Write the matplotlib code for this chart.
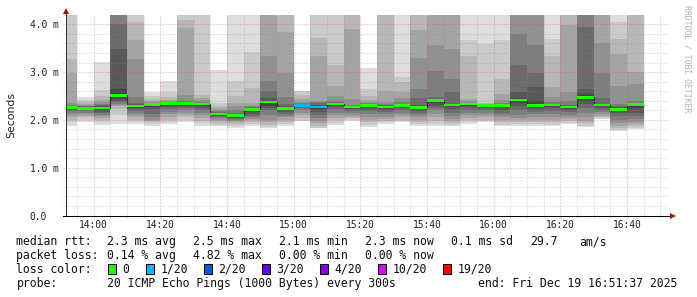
import numpy as np
import matplotlib
matplotlib.use("Agg")
import matplotlib.pyplot as plt
from matplotlib.patches import Rectangle

plt.rcParams['lines.scale_dashes'] = False

# ---------------- data ----------------
bin_start = ["13:50", "13:55", "14:00", "14:05", "14:10", "14:15", "14:20", "14:25",
             "14:30", "14:35", "14:40", "14:45", "14:50", "14:55", "15:00", "15:05",
             "15:10", "15:15", "15:20", "15:25", "15:30", "15:35", "15:40", "15:45",
             "15:50", "15:55", "16:00", "16:05", "16:10", "16:15", "16:20", "16:25",
             "16:30", "16:35", "16:40"]

nan = float("nan")
# 20 sorted ping RTTs (ms) per 5-minute bin; nan = lost ping
pings_ms = [
    [1.87, 1.95, 2.0, 2.05, 2.1, 2.15, 2.18, 2.2, 2.22, 2.25, 2.27, 2.28, 2.29, 2.3, 2.32, 2.35, 2.99, 3.27, 4.5, 5.0],
    [1.95, 2.0, 2.05, 2.08, 2.12, 2.15, 2.18, 2.2, 2.22, 2.24, 2.25, 2.26, 2.27, 2.28, 2.29, 2.31, 2.33, 2.37, 2.42, 2.47],
    [1.9, 1.95, 2.0, 2.04, 2.08, 2.11, 2.14, 2.17, 2.2, 2.23, 2.25, 2.27, 2.29, 2.31, 2.34, 2.37, 2.42, 2.5, 2.62, 3.22],
    [1.92, 2.1, 2.23, 2.28, 2.31, 2.34, 2.37, 2.4, 2.44, 2.48, 2.55, 2.65, 3.49, 4.0, 4.3, 4.4, 4.5, 4.6, 4.7, 4.8],
    [1.92, 1.96, 2.0, 2.05, 2.1, 2.14, 2.18, 2.22, 2.25, 2.28, 2.30, 2.31, 2.33, 2.36, 2.48, 3.27, 3.67, 4.04, 4.3, 4.5],
    [1.88, 1.92, 1.95, 1.97, 2.0, 2.05, 2.12, 2.22, 2.27, 2.31, 2.32, 2.33, 2.34, 2.35, 2.36, 2.38, 2.4, 2.43, 2.5, 2.59],
    [1.92, 1.96, 2.0, 2.06, 2.12, 2.17, 2.22, 2.27, 2.3, 2.33, 2.34, 2.345, 2.35, 2.36, 2.37, 2.39, 2.42, 2.47, 2.58, 2.82],
    [1.96, 2.0, 2.05, 2.1, 2.15, 2.2, 2.24, 2.27, 2.3, 2.33, 2.35, 2.36, 2.37, 2.38, 2.42, 2.52, 3.92, 4.09, 4.5, 4.6],
    [1.88, 1.93, 1.98, 2.03, 2.1, 2.15, 2.2, 2.24, 2.28, 2.31, 2.33, 2.34, 2.35, 2.36, 2.38, 2.41, 2.45, 2.51, 4.4, 4.6],
    [1.87, 1.9, 1.94, 1.97, 2.0, 2.03, 2.06, 2.08, 2.1, 2.12, 2.13, 2.14, 2.15, 2.16, 2.18, 2.2, 2.24, 2.28, 2.35, 3.04],
    [1.83, 1.87, 1.91, 1.95, 1.98, 2.0, 2.02, 2.04, 2.06, 2.08, 2.1, 2.11, 2.12, 2.15, 2.2, 2.28, 2.35, 2.49, 2.82, 4.5],
    [1.87, 1.91, 1.95, 1.99, 2.02, 2.05, 2.09, 2.13, 2.17, 2.21, 2.23, 2.24, 2.25, 2.26, 2.28, 2.3, 2.35, 2.67, 3.41, 4.5],
    [1.83, 1.86, 1.9, 1.95, 2.0, 2.1, 2.2, 2.25, 2.3, 2.36, 2.38, 2.40, 2.46, 2.6, 2.82, 3.34, 4.3, 4.4, 4.5, 4.6],
    [1.88, 1.92, 1.96, 2.0, 2.05, 2.09, 2.13, 2.17, 2.2, 2.23, 2.25, 2.26, 2.28, 2.33, 2.47, 2.99, 3.84, 4.3, 4.4, 4.5],
    [1.95, 1.98, 2.04, 2.1, 2.15, 2.2, 2.24, 2.27, 2.29, 2.295, 2.30, 2.31, 2.32, 2.33, 2.35, 2.38, 2.44, 2.52, 2.60, nan],
    [1.80, 1.83, 1.88, 1.93, 1.98, 2.04, 2.1, 2.16, 2.22, 2.26, 2.28, 2.3, 2.32, 2.35, 2.38, 2.40, 3.33, 3.72, 4.5, nan],
    [1.90, 1.94, 1.99, 2.04, 2.1, 2.15, 2.22, 2.27, 2.3, 2.325, 2.335, 2.34, 2.35, 2.37, 2.4, 2.49, 2.71, 3.15, 4.3, 4.5],
    [1.98, 2.0, 2.03, 2.06, 2.1, 2.15, 2.19, 2.22, 2.25, 2.265, 2.275, 2.28, 2.29, 2.3, 2.32, 2.44, 3.90, 4.3, 4.4, 4.5],
    [1.86, 1.9, 1.95, 2.0, 2.06, 2.12, 2.18, 2.23, 2.27, 2.295, 2.305, 2.31, 2.32, 2.33, 2.35, 2.38, 2.42, 2.5, 2.65, 3.08],
    [1.92, 1.95, 1.98, 2.02, 2.07, 2.12, 2.17, 2.21, 2.24, 2.265, 2.275, 2.28, 2.29, 2.31, 2.33, 2.38, 2.61, 4.3, 4.4, 4.5],
    [1.95, 1.97, 2.0, 2.05, 2.1, 2.15, 2.2, 2.24, 2.27, 2.295, 2.305, 2.31, 2.32, 2.34, 2.38, 2.45, 2.58, 2.79, 2.89, 4.5],
    [1.88, 1.91, 1.95, 2.0, 2.05, 2.1, 2.14, 2.18, 2.22, 2.25, 2.27, 2.29, 2.31, 2.45, 2.65, 3.30, 3.88, 4.3, 4.4, 4.5],
    [1.87, 1.92, 1.98, 2.05, 2.12, 2.2, 2.25, 2.3, 2.35, 2.40, 2.42, 2.43, 2.44, 2.47, 3.03, 3.57, 4.3, 4.4, 4.5, 4.6],
    [1.87, 1.9, 1.93, 1.97, 2.02, 2.08, 2.15, 2.22, 2.28, 2.305, 2.315, 2.32, 2.34, 2.58, 2.85, 3.49, 4.3, 4.4, 4.5, 4.6],
    [1.92, 1.95, 1.99, 2.04, 2.1, 2.15, 2.21, 2.26, 2.3, 2.32, 2.33, 2.335, 2.34, 2.35, 2.36, 2.39, 2.44, 3.34, 3.67, 4.5],
    [1.95, 1.97, 2.0, 2.05, 2.1, 2.15, 2.2, 2.25, 2.28, 2.295, 2.30, 2.305, 2.31, 2.315, 2.32, 2.33, 2.34, 2.36, 3.58, 4.5],
    [1.87, 1.9, 1.95, 2.0, 2.05, 2.1, 2.15, 2.2, 2.26, 2.295, 2.305, 2.31, 2.32, 2.33, 2.36, 2.42, 2.55, 2.85, 3.67, 4.5],
    [1.88, 1.91, 1.95, 1.99, 2.04, 2.1, 2.2, 2.3, 2.36, 2.41, 2.43, 2.46, 2.58, 3.14, 3.79, 4.3, 4.4, 4.5, 4.6, 4.7],
    [1.88, 1.91, 1.95, 2.0, 2.06, 2.12, 2.17, 2.22, 2.26, 2.29, 2.31, 2.4, 2.68, 2.98, 3.56, 4.3, 4.4, 4.5, 4.6, 4.7],
    [1.87, 1.9, 1.95, 2.0, 2.06, 2.12, 2.18, 2.24, 2.28, 2.305, 2.315, 2.32, 2.325, 2.34, 2.38, 2.48, 2.68, 3.34, 3.69, 4.5],
    [1.92, 1.94, 1.97, 2.01, 2.06, 2.11, 2.16, 2.2, 2.24, 2.265, 2.275, 2.28, 2.29, 2.32, 2.4, 2.58, 3.98, 4.3, 4.4, 4.5],
    [1.85, 1.88, 1.93, 1.98, 2.05, 2.15, 2.25, 2.33, 2.4, 2.46, 2.48, 2.55, 2.65, 3.95, 4.25, 4.3, 4.35, 4.4, 4.45, 4.5],
    [2.02, 2.03, 2.05, 2.08, 2.12, 2.16, 2.2, 2.24, 2.28, 2.305, 2.315, 2.32, 2.325, 2.45, 2.99, 3.6, 4.3, 4.4, 4.5, 4.6],
    [1.76, 1.78, 1.82, 1.87, 1.93, 2.0, 2.08, 2.14, 2.19, 2.215, 2.23, 2.24, 2.26, 2.3, 2.33, 2.71, 3.37, 3.69, 4.05, 4.5],
    [1.81, 1.84, 1.87, 1.91, 1.96, 2.02, 2.08, 2.15, 2.25, 2.315, 2.325, 2.33, 2.335, 2.34, 2.4, 2.75, 3.0, 4.3, 4.4, 4.5],
]

median_ms = [2.26, 2.24, 2.25, 2.51, 2.29, 2.32, 2.34, 2.34, 2.33, 2.125, 2.09, 2.22,
             2.37, 2.24, 2.30, 2.27, 2.33, 2.27, 2.30, 2.27, 2.30, 2.26, 2.41, 2.31,
             2.33, 2.30, 2.30, 2.42, 2.30, 2.31, 2.27, 2.47, 2.31, 2.22, 2.32]

loss_count = [0] * 14 + [1, 1] + [0] * 19

loss_levels = [0, 1, 2, 3, 4, 10, 19]
loss_labels = ["0", "1/20", "2/20", "3/20", "4/20", "10/20", "19/20"]
loss_colors = ["#26ff00", "#00b8ff", "#0059ff", "#5e00ff", "#7e00ff", "#dd00ff", "#ff0000"]

ytick_values = [0.0, 1.0, 2.0, 3.0, 4.0]
ytick_labels = ["0.0", "1.0 m", "2.0 m", "3.0 m", "4.0 m"]
xtick_labels = ["14:00", "14:20", "14:40", "15:00", "15:20", "15:40", "16:00", "16:20", "16:40"]

rtt_items = ["2.3 ms avg", "2.5 ms max", "2.1 ms min", "2.3 ms now", "0.1 ms sd", "29.7", "am/s"]
loss_items = ["0.14 % avg", "4.82 % max", "0.00 % min", "0.00 % now"]
probe_text = "20 ICMP Echo Pings (1000 Bytes) every 300s"
end_text = "end: Fri Dec 19 16:51:37 2025"

# ---------------- helpers ----------------
def to_min(s):
    h, m = s.split(":")
    return int(h) * 60 + int(m) - 14 * 60

starts = np.array([to_min(s) for s in bin_start], dtype=float)
BIN = 5.0

W, H = 697, 297
fig = plt.figure(figsize=(W / 100, H / 100), dpi=100, facecolor="white")
L, R, T, B = 66, 669, 14.7, 215.5
ax = fig.add_axes([L / W, 1 - B / H, (R - L) / W, (B - T) / H])
ax.set_facecolor("white")
ax.set_xlim(-8.3, 172.6)
ax.set_ylim(0, 4.2)

# ---------------- smoke ----------------
half = 10
for x0, p in zip(starts, pings_ms):
    p = list(p)
    for ibot in range(1, half + 1):
        itop = 21 - ibot
        lo, hi = p[ibot - 1], p[itop - 1]
        if np.isnan(lo) or np.isnan(hi):
            continue
        g = int(190 / half * (half - ibot)) + 50
        col = "#%02x%02x%02x" % (g, g, g)
        ax.bar(x0, hi - lo, bottom=lo, width=BIN, align="edge", color=col,
               linewidth=0, zorder=2)

# ---------------- median ----------------
edges = np.append(starts, starts[-1] + BIN)
ax.stairs(median_ms, edges, baseline=None, color="#202020", lw=0.8, zorder=3)

def loss_col(n):
    for lvl, c in zip(loss_levels, loss_colors):
        if n <= lvl:
            return c
    return loss_colors[-1]

sw = 1.3 * 4.2 / (B - T)
med = np.array(median_ms)
ax.bar(starts, 2 * sw, bottom=med - sw, width=BIN, align="edge",
       color=[loss_col(n) for n in loss_count], linewidth=0, zorder=4)

# ---------------- grid ----------------
xt = ax.get_xaxis_transform()
yt = ax.get_yaxis_transform()
ext_y = 2.5 / (B - T)
ext_x = 3.0 / (R - L)
minor_col = (0.55, 0.55, 0.55, 0.45)
major_col = (0.80, 0.30, 0.30, 0.50)
dot = (0, (0.72, 1.44))
minor_v = [m for m in np.arange(-5, 171, 5) if m % 20 != 0]
major_v = list(np.arange(0, 161, 20))
ax.vlines(minor_v, -ext_y, 1, transform=xt, colors=[minor_col], linestyles=[dot],
          lw=0.72, zorder=5, clip_on=False)
ax.vlines(major_v, -ext_y, 1, transform=xt, colors=[major_col], linestyles=[dot],
          lw=0.72, zorder=5, clip_on=False)
minor_h = [v for v in np.round(np.arange(0.2, 4.11, 0.2), 2) if abs(v - round(v)) > 1e-6]
major_h = [1.0, 2.0, 3.0, 4.0]
ax.hlines(minor_h, -ext_x, 1, transform=yt, colors=[minor_col], linestyles=[dot],
          lw=0.72, zorder=5, clip_on=False)
ax.hlines(major_h, -ext_x, 1, transform=yt, colors=[major_col], linestyles=[dot],
          lw=0.72, zorder=5, clip_on=False)

# ---------------- axes lines & arrows ----------------
for s in ["top", "right"]:
    ax.spines[s].set_visible(False)
ax.spines["left"].set_color("#333333")
ax.spines["bottom"].set_color("#000000")
ax.spines["left"].set_linewidth(0.75)
ax.spines["bottom"].set_linewidth(0.75)
ax.spines["left"].set_zorder(6)
ax.spines["bottom"].set_zorder(6)
ax.plot([0, 0], [1, 1 + 4 / (B - T)], transform=ax.transAxes, color="#333333",
        lw=0.75, clip_on=False, zorder=6)
ax.plot([-ext_x, 0], [0, 0], transform=ax.transAxes, color="#000000",
        lw=0.75, clip_on=False, zorder=6)
ax.plot([1, 1 + 2 / (R - L)], [0, 0], transform=ax.transAxes, color="#000000",
        lw=0.75, clip_on=False, zorder=6)
ax.plot([0], [1 + 3.5 / (B - T)], marker="^", markersize=4, color="#a01010",
        transform=ax.transAxes, clip_on=False, zorder=7, markeredgewidth=0)
ax.plot([1 + 4 / (R - L)], [0], marker=">", markersize=4, color="#a01010",
        transform=ax.transAxes, clip_on=False, zorder=7, markeredgewidth=0)

# ---------------- ticks ----------------
mono = "DejaVu Sans Mono"
ax.set_yticks(ytick_values)
ax.set_yticklabels(ytick_labels, family=mono, fontsize=6.9, color="#222222")
for lab in ax.get_yticklabels():
    lab.set_horizontalalignment("left")
ax.tick_params(axis="y", length=0, pad=(L - 29.5) * 0.72)
ax.set_xticks([to_min(s) for s in xtick_labels])
ax.set_xticklabels(xtick_labels, family=mono, fontsize=6.9, color="#222222")
ax.tick_params(axis="x", length=0, pad=3.2)

# ---------------- labels ----------------
fig.text(11 / W, 1 - 115 / H, "Seconds", rotation=90, ha="center", va="center",
         family="DejaVu Sans", fontsize=7.8, color="#222222")
fig.text(687.5 / W, 1 - 59 / H, "RRDTOOL / TOBI OETIKER", rotation=-90,
         ha="center", va="center", family=mono, fontsize=5.9, color="#b4b4b4")

FS = 8.3
def ftext(xp, yp, s, **kw):
    fig.text(xp / W, 1 - yp / H, s, ha="left", va="center", family=mono,
             fontsize=FS, color="#111111", **kw)

y1, y2, y3, y4 = 241.7, 255.3, 269.3, 283.3
ftext(16.5, y1, "median rtt:")
for xp, s in zip([106.7, 193.3, 279.0, 365.0, 451.0, 530.0, 579.0], rtt_items):
    ftext(xp, y1, s)
ftext(16.5, y2, "packet loss:")
for xp, s in zip([106.7, 192.6, 279.0, 365.0], loss_items):
    ftext(xp, y2, s)
ftext(16.5, y3, "loss color:")
box_x = [108, 146, 204, 262, 320, 378, 443]
for bx, lab, c in zip(box_x, loss_labels, loss_colors):
    fig.add_artist(Rectangle((bx / W, 1 - (y3 + 5) / H), 8 / W, 10 / H,
                             transform=fig.transFigure, facecolor=c,
                             edgecolor="#000000", linewidth=0.75))
    ftext(bx + 14.5, y3, lab)
ftext(16.5, y4, "probe:")
ftext(106.7, y4, probe_text)
ftext(478.5, y4, end_text)

fig.savefig("out.png", dpi=100, facecolor="white")
